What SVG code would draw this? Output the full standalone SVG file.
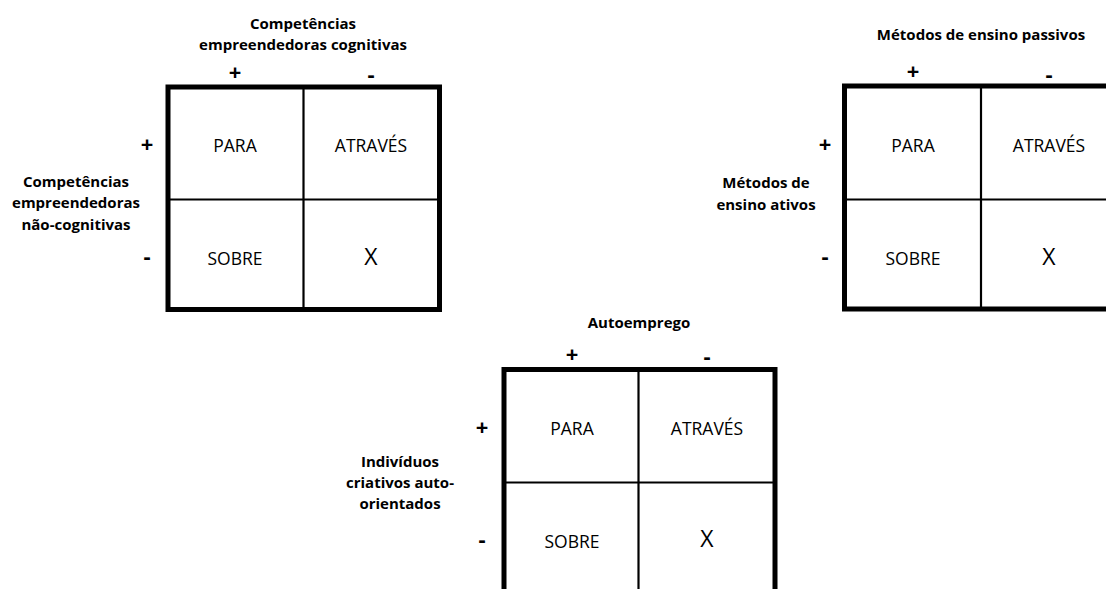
<svg xmlns="http://www.w3.org/2000/svg" width="1106" height="589" viewBox="0 0 1106 589">
  <style>
    .frame { fill: none; stroke: #000; stroke-width: 5; }
    .grid { stroke: #000; stroke-width: 2.2; }
    .axis { font-family: "Open Sans", "Liberation Sans", sans-serif; font-weight: bold; font-size: 15px; fill: #000; text-anchor: middle; }
    .sign { font-family: "Open Sans", "Liberation Sans", sans-serif; font-weight: bold; font-size: 22px; fill: #000; text-anchor: middle; }
    .cell { font-family: "Open Sans", "Liberation Sans", sans-serif; font-size: 17.5px; fill: #000; text-anchor: middle; }
    .cross { font-family: "Open Sans", "Liberation Sans", sans-serif; font-size: 23px; fill: #000; text-anchor: middle; }
  </style>
  <rect width="1106" height="589" fill="#fff"/>

  <!-- Matrix: cognitive vs non-cognitive entrepreneurial competences -->
  <g id="matrix-competencias">
    <text class="axis" x="303" y="29">Competências</text>
    <text class="axis" x="303" y="50">empreendedoras cognitivas</text>
    <text class="axis" x="76" y="187">Competências</text>
    <text class="axis" x="76" y="208">empreendedoras</text>
    <text class="axis" x="76" y="230">não-cognitivas</text>
    <text class="sign" x="235" y="80">+</text>
    <text class="sign" x="371" y="82">-</text>
    <text class="sign" x="147" y="152">+</text>
    <text class="sign" x="147" y="264">-</text>
    <rect class="frame" x="168" y="87" width="271.5" height="222.5"/>
    <line class="grid" x1="303.5" y1="87" x2="303.5" y2="309.5"/>
    <line class="grid" x1="168" y1="199.5" x2="439.5" y2="199.5"/>
    <text class="cell" x="235" y="151.5">PARA</text>
    <text class="cell" x="371" y="151.5">ATRAVÉS</text>
    <text class="cell" x="235" y="265">SOBRE</text>
    <text class="cross" x="371" y="265">X</text>
  </g>

  <!-- Matrix: passive vs active teaching methods -->
  <g id="matrix-metodos">
    <text class="axis" x="981" y="40">Métodos de ensino passivos</text>
    <text class="axis" x="766" y="188">Métodos de</text>
    <text class="axis" x="766" y="210">ensino ativos</text>
    <text class="sign" x="913" y="79">+</text>
    <text class="sign" x="1049" y="82">-</text>
    <text class="sign" x="825" y="152">+</text>
    <text class="sign" x="825" y="264">-</text>
    <rect class="frame" x="844.5" y="86" width="290" height="223"/>
    <line class="grid" x1="981" y1="86" x2="981" y2="309"/>
    <line class="grid" x1="844.5" y1="199.5" x2="1110" y2="199.5"/>
    <text class="cell" x="913" y="151.5">PARA</text>
    <text class="cell" x="1049" y="151.5">ATRAVÉS</text>
    <text class="cell" x="913" y="265">SOBRE</text>
    <text class="cross" x="1049" y="265">X</text>
  </g>

  <!-- Matrix: self-employment vs self-oriented creative individuals -->
  <g id="matrix-autoemprego">
    <text class="axis" x="639" y="328">Autoemprego</text>
    <text class="axis" x="400" y="467">Indivíduos</text>
    <text class="axis" x="400" y="488">criativos auto-</text>
    <text class="axis" x="400" y="509">orientados</text>
    <text class="sign" x="572" y="362">+</text>
    <text class="sign" x="707" y="364">-</text>
    <text class="sign" x="482" y="435">+</text>
    <text class="sign" x="482" y="547">-</text>
    <rect class="frame" x="504" y="369.5" width="271" height="240"/>
    <line class="grid" x1="638.5" y1="369.5" x2="638.5" y2="600"/>
    <line class="grid" x1="504" y1="482.5" x2="775" y2="482.5"/>
    <text class="cell" x="572" y="435">PARA</text>
    <text class="cell" x="707" y="435">ATRAVÉS</text>
    <text class="cell" x="572" y="548">SOBRE</text>
    <text class="cross" x="707" y="547">X</text>
  </g>
</svg>
